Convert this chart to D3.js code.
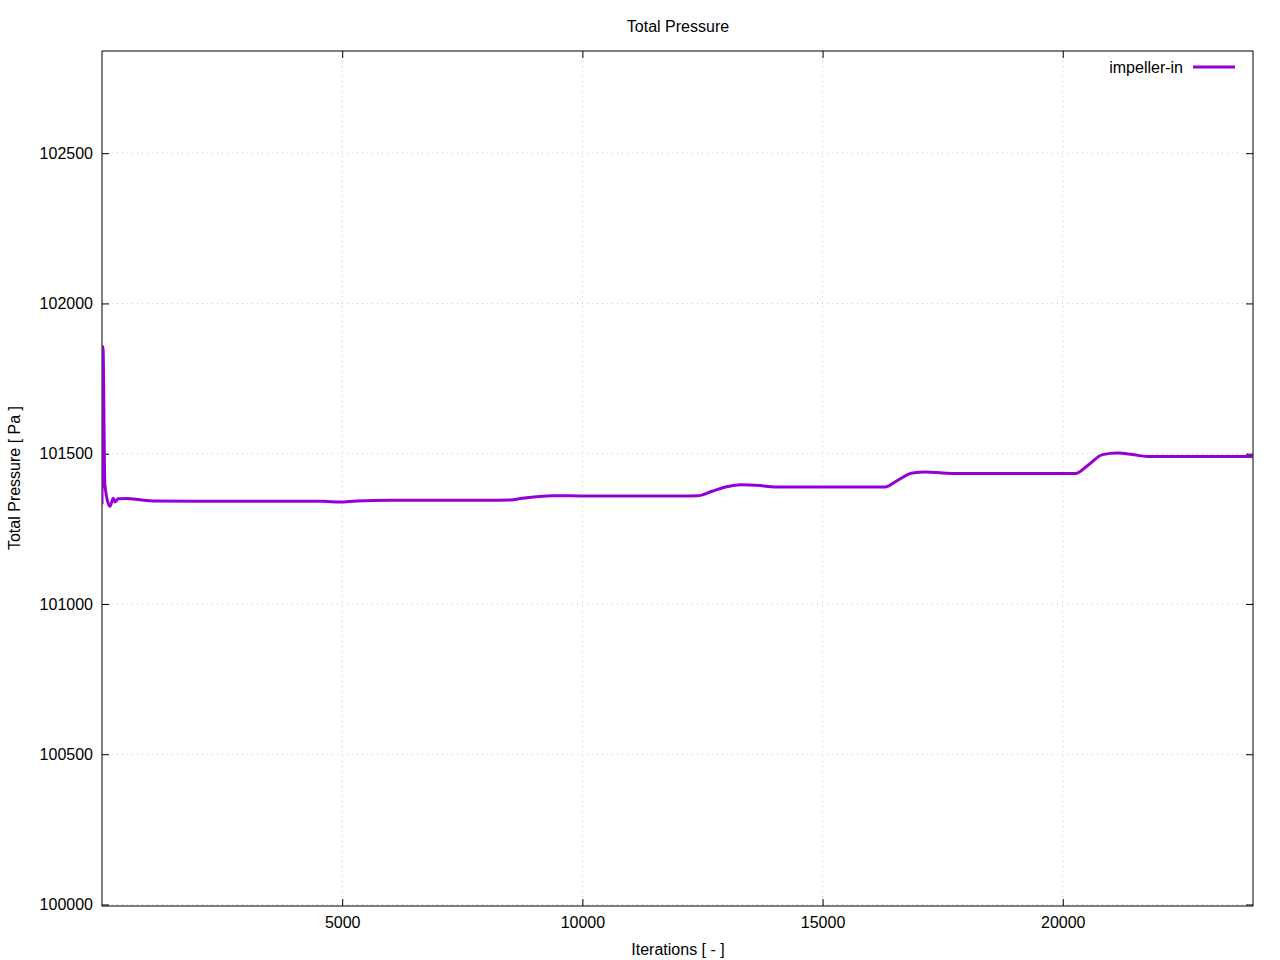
<!DOCTYPE html>
<html><head><meta charset="utf-8">
<script src="https://cdn.jsdelivr.net/npm/d3@7"></script>
<style>body{margin:0;background:#fff;} svg{display:block;} text{font-family:"Liberation Sans",Arial,sans-serif;}</style>
</head><body><svg id="c" width="1280" height="960"></svg>
<script>
const title = "Total Pressure";
const xLabel = "Iterations [ - ]";
const yLabel = "Total Pressure [ Pa ]";
const seriesName = "impeller-in";
const xTicks = [5000, 10000, 15000, 20000];
const yTicks = [100000, 100500, 101000, 101500, 102000, 102500];
const xDomain = [0, 23960];
const yDomain = [99995, 102840];
const iterations = [0, 20, 60, 165, 235, 270, 330, 520, 790, 1060, 2000, 3000, 4000, 4600, 4950, 5300, 6000, 6500, 7500, 8000, 8500, 8750, 9100, 9400, 9800, 10000, 11000, 12000, 12400, 12700, 13000, 13300, 13700, 14000, 15000, 16000, 16300, 16550, 16870, 17150, 17500, 17800, 18500, 19500, 20000, 20260, 20550, 20830, 21140, 21450, 21760, 22500, 23500, 23960];
const pressure = [101332, 101857, 101396, 101325, 101352, 101339, 101350, 101351, 101347, 101343, 101342, 101342, 101342, 101342, 101339, 101343, 101345, 101345, 101345, 101345, 101346, 101352, 101358, 101360, 101360, 101359, 101359, 101359, 101360, 101375, 101390, 101397, 101394, 101389, 101389, 101389, 101389, 101410, 101436, 101439, 101436, 101434, 101434, 101434, 101434, 101434, 101465, 101497, 101502, 101497, 101491, 101491, 101491, 101491];

const svg = d3.select("#c");
const L = 102, R = 1253, T = 51, B = 906;
const x = d3.scaleLinear().domain(xDomain).range([L, R]);
const y = d3.scaleLinear().domain(yDomain).range([B, T]);
const color = "#9400d3";
const fs = 16;

// grid
const g = svg.append("g");
g.selectAll(".gx").data(xTicks).enter().append("line")
  .attr("x1", d => x(d)).attr("x2", d => x(d)).attr("y1", T).attr("y2", B)
  .attr("stroke", "#c8c8c8").attr("stroke-width", 1).attr("stroke-dasharray", "1,4");
g.selectAll(".gy").data(yTicks).enter().append("line")
  .attr("y1", d => y(d)).attr("y2", d => y(d)).attr("x1", L).attr("x2", R)
  .attr("stroke", "#c8c8c8").attr("stroke-width", 1).attr("stroke-dasharray", "1,4");

// axes with inward ticks (mirrored)
const tl = 7;
svg.append("g").attr("transform", `translate(0,${B})`)
  .call(d3.axisBottom(x).tickValues(xTicks).tickSize(-tl).tickPadding(11).tickFormat(d3.format("d")))
  .call(a => a.select(".domain").remove());
svg.append("g").attr("transform", `translate(0,${T})`)
  .call(d3.axisTop(x).tickValues(xTicks).tickSize(-tl).tickFormat(""))
  .call(a => a.select(".domain").remove());
svg.append("g").attr("transform", `translate(${L},0)`)
  .call(d3.axisLeft(y).tickValues(yTicks).tickSize(-tl).tickPadding(9).tickFormat(d3.format("d")))
  .call(a => a.select(".domain").remove());
svg.append("g").attr("transform", `translate(${R},0)`)
  .call(d3.axisRight(y).tickValues(yTicks).tickSize(-tl).tickFormat(""))
  .call(a => a.select(".domain").remove());
svg.selectAll(".tick line").attr("stroke", "#000").attr("stroke-width", 1);
svg.selectAll(".tick text").attr("font-size", fs).attr("fill", "#000").attr("font-family", "Liberation Sans, Arial, sans-serif");

// border
svg.append("rect").attr("x", L).attr("y", T).attr("width", R - L).attr("height", B - T)
  .attr("fill", "none").attr("stroke", "#000").attr("stroke-width", 1);

// line
const data = iterations.map((d, i) => [d, pressure[i]]);
svg.append("defs").append("clipPath").attr("id", "clip").append("rect")
  .attr("x", L).attr("y", T).attr("width", R - L).attr("height", B - T);
svg.append("path").datum(data)
  .attr("clip-path", "url(#clip)")
  .attr("d", d3.line().x(d => x(d[0])).y(d => y(d[1])).curve(d3.curveMonotoneX))
  .attr("fill", "none").attr("stroke", color).attr("stroke-width", 3).attr("stroke-linejoin", "round");

// legend
svg.append("text").attr("x", 1183).attr("y", 73).attr("text-anchor", "end")
  .attr("font-size", fs).text(seriesName);
svg.append("line").attr("x1", 1193).attr("x2", 1235).attr("y1", 67).attr("y2", 67)
  .attr("stroke", color).attr("stroke-width", 3);

// titles
svg.append("text").attr("x", 678).attr("y", 32).attr("text-anchor", "middle").attr("font-size", fs).text(title);
svg.append("text").attr("x", 678).attr("y", 955).attr("text-anchor", "middle").attr("font-size", fs).text(xLabel);
svg.append("text").attr("transform", "translate(20,478) rotate(-90)").attr("text-anchor", "middle").attr("font-size", fs).text(yLabel);
</script></body></html>
